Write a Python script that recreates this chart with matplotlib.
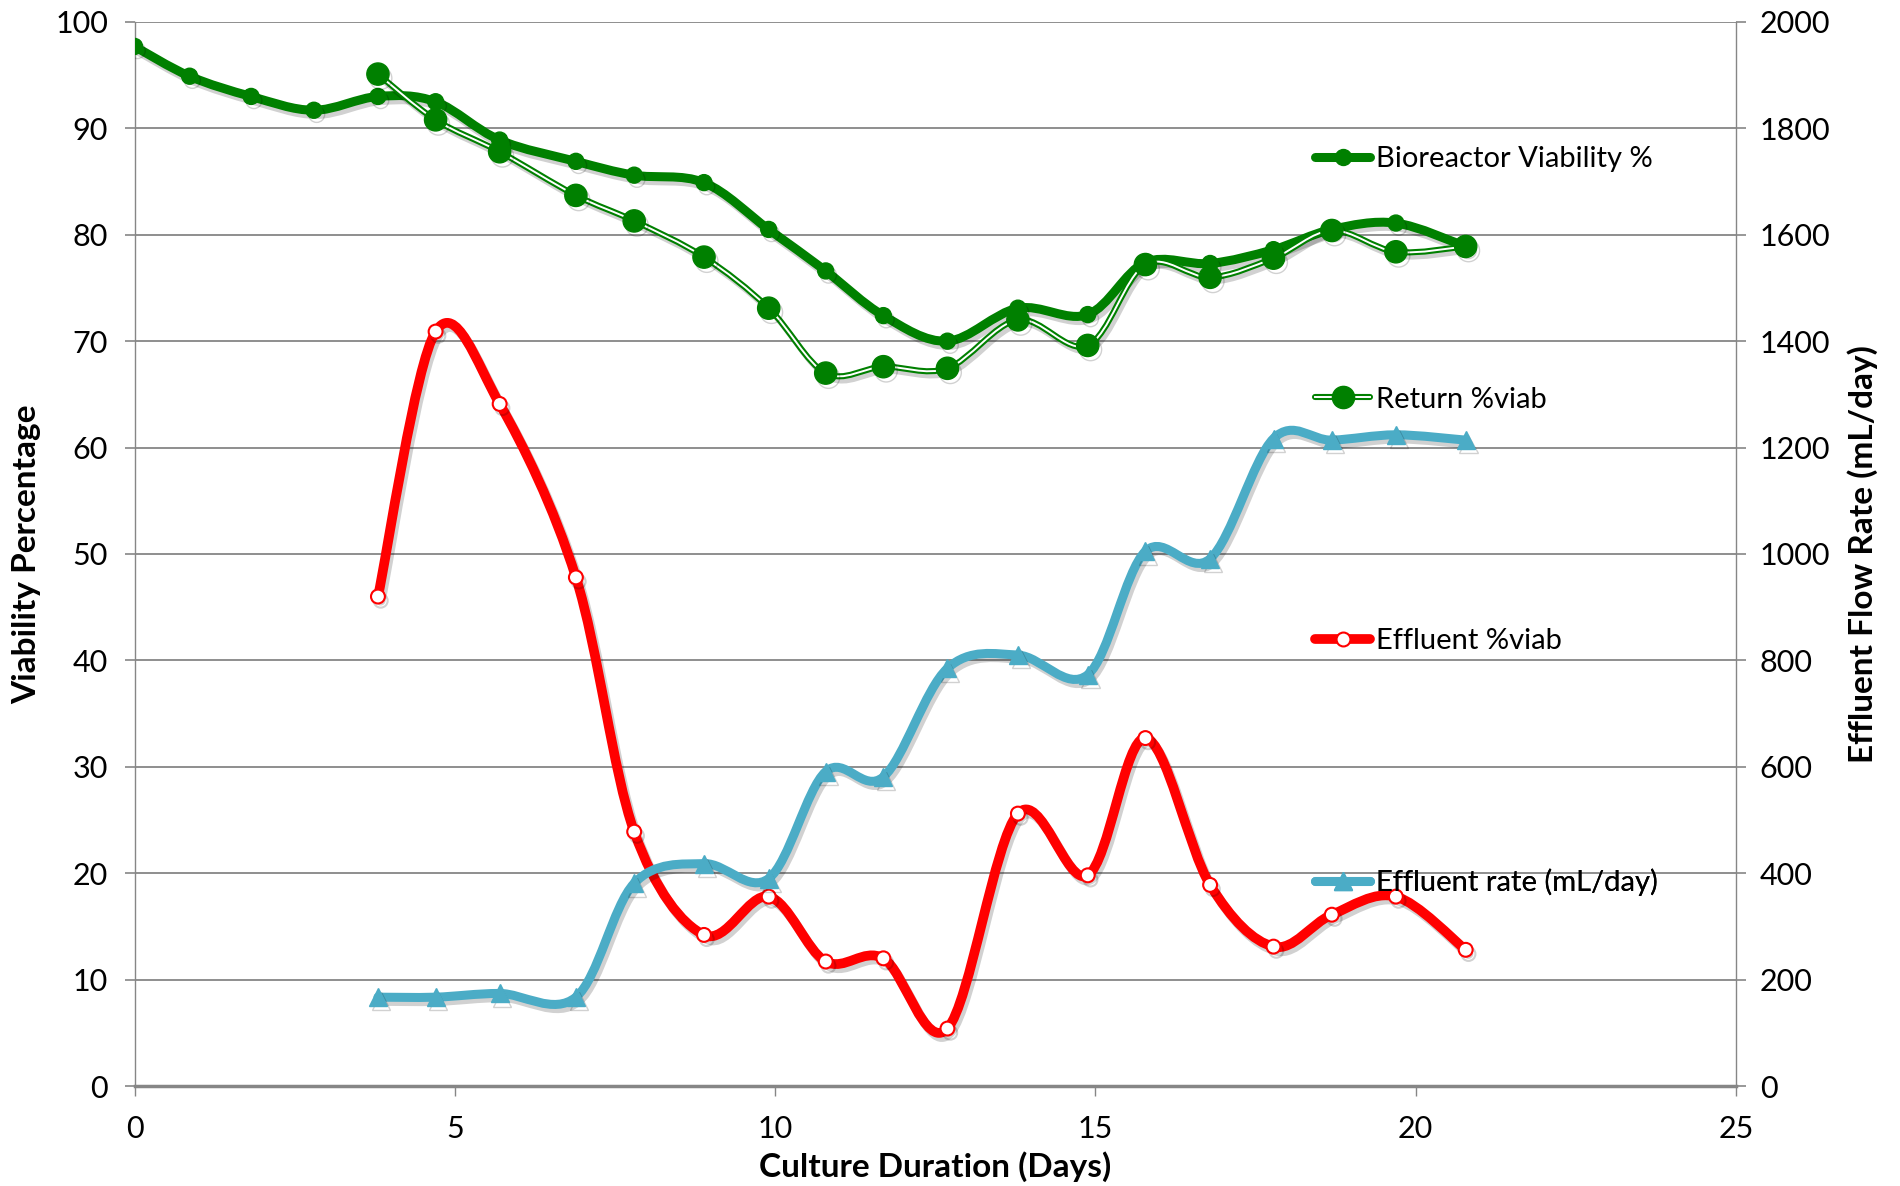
import numpy as np
import matplotlib
matplotlib.use('Agg')
import matplotlib.pyplot as plt
import matplotlib.patheffects as pe
from matplotlib.path import Path
from matplotlib.patches import PathPatch
from matplotlib.lines import Line2D

plt.rcParams['font.family'] = ['Lato', 'DejaVu Sans']

# culture day of each bioreactor sample
days = [0, 0.86, 1.82, 2.80, 3.80, 4.70, 5.70, 6.89, 7.80, 8.89, 9.90,
        10.79, 11.69, 12.69, 13.79, 14.88, 15.78, 16.79, 17.78, 18.69, 19.69, 20.78]
bioreactor_viab = [97.7, 94.9, 93.0, 91.7, 93.0, 92.5, 88.9, 86.9, 85.6, 84.9, 80.5,
                   76.6, 72.4, 70.0, 73.1, 72.5, 77.4, 77.3, 78.6, 80.5, 81.1, 78.9]

# return / effluent sampling starts on day 3.8
sample_days = [3.80, 4.70, 5.70, 6.89, 7.80, 8.89, 9.90, 10.79, 11.69, 12.69,
               13.79, 14.88, 15.78, 16.79, 17.78, 18.69, 19.69, 20.78]
return_viab = [95.1, 90.8, 87.8, 83.7, 81.3, 77.9, 73.1, 67.0, 67.6, 67.45,
               72.0, 69.6, 77.2, 76.0, 77.8, 80.4, 78.4, 78.9]
effluent_viab = [46.0, 70.9, 64.1, 47.8, 23.9, 14.2, 17.8, 11.7, 12.0, 5.4,
                 25.6, 19.8, 32.7, 18.9, 13.1, 16.1, 17.8, 12.8]
effluent_rate = [167, 167, 174, 167, 381, 418, 390, 591, 581, 785,
                 810, 773, 1005, 991, 1217, 1214, 1224, 1214]

GREEN = '#008000'
RED = '#FF0000'
BLUE = '#4BACC6'
GRAY = '#868686'


def smooth_path(xs, ys):
    """Excel-like smoothed line: cubic Bezier segments through the points."""
    pts = np.column_stack([xs, ys]).astype(float)
    n = len(pts)
    verts = [pts[0]]
    codes = [Path.MOVETO]
    for i in range(n - 1):
        p0 = pts[max(i - 1, 0)]
        p1 = pts[i]
        p2 = pts[i + 1]
        p3 = pts[min(i + 2, n - 1)]
        verts += [p1 + (p2 - p0) / 6, p2 - (p3 - p1) / 6, p2]
        codes += [Path.CURVE4] * 3
    return Path(verts, codes)


def shadow():
    return [pe.SimpleLineShadow(offset=(2, -3), shadow_color='black', alpha=0.18), pe.Normal()]


def add_curve(ax, xs, ys, color, lw, zorder, fx=True):
    patch = PathPatch(smooth_path(xs, ys), facecolor='none', edgecolor=color, lw=lw,
                      capstyle='round', joinstyle='round', zorder=zorder)
    if fx:
        patch.set_path_effects(shadow())
    ax.add_patch(patch)


fig = plt.figure(figsize=(19, 11.86), dpi=100)
ax = fig.add_axes([0.0708, 0.0843, 0.8429, 0.8972])
ax2 = ax.twinx()

# bioreactor viability
add_curve(ax, days, bioreactor_viab, GREEN, 6.5, 3)
ax.plot(days, bioreactor_viab, linestyle='none', marker='o', ms=11.5, color=GREEN,
        zorder=4, path_effects=shadow())

# return viability (double line)
add_curve(ax, sample_days, return_viab, GREEN, 4.4, 3)
add_curve(ax, sample_days, return_viab, 'white', 1.4, 3.1, fx=False)
ax.plot(sample_days, return_viab, linestyle='none', marker='o', ms=16, color=GREEN,
        zorder=4, path_effects=shadow())

# effluent viability
add_curve(ax, sample_days, effluent_viab, RED, 7, 5)
ax.plot(sample_days, effluent_viab, linestyle='none', marker='o', ms=10, mfc='white',
        mec=RED, mew=1.5, zorder=6, path_effects=shadow())

# effluent flow rate on the secondary axis
add_curve(ax2, sample_days, effluent_rate, BLUE, 6.5, 3)
ax2.plot(sample_days, effluent_rate, linestyle='none', marker='^', ms=13, color=BLUE,
         zorder=4, path_effects=shadow())

ax.set_xlim(0, 25)
ax.set_ylim(0, 100)
ax2.set_ylim(0, 2000)
ax.set_xticks(range(0, 26, 5))
ax.set_yticks(range(0, 101, 10))
ax2.set_yticks(range(0, 2001, 200))

ax.yaxis.grid(True, color=GRAY, lw=1.3)
ax.set_axisbelow(True)

for a in (ax, ax2):
    a.spines['top'].set_visible(False)
    a.spines['left'].set_color(GRAY)
    a.spines['right'].set_color(GRAY)
    a.spines['left'].set_linewidth(1.0)
    a.spines['right'].set_linewidth(1.0)
    a.spines['bottom'].set_color(GRAY)
    a.spines['bottom'].set_linewidth(2.5)
ax2.spines['bottom'].set_visible(False)
ax2.spines['left'].set_visible(False)
ax.spines['right'].set_visible(False)

ax.tick_params(axis='y', direction='out', length=7, width=1.2, color=GRAY, pad=12, labelsize=22)
ax.tick_params(axis='x', direction='out', length=7, width=1.0, color=GRAY, pad=14, labelsize=22)
ax2.tick_params(axis='y', direction='out', length=7, width=1.2, color=GRAY, pad=10, labelsize=22)

ax.set_xlabel('Culture Duration (Days)', fontsize=24, fontweight='bold', labelpad=6)
ax.set_ylabel('Viability Percentage', fontsize=24, fontweight='bold', labelpad=10)
ax2.set_ylabel('Effluent Flow Rate (mL/day)', fontsize=24, fontweight='bold', labelpad=12)

# legend entries, spread down the right side like the original
bio_h = Line2D([], [], color=GREEN, lw=6.5, marker='o', ms=11.5, solid_capstyle='round')
ret_h = (Line2D([], [], color=GREEN, lw=4.4, solid_capstyle='round'),
         Line2D([], [], color='white', lw=1.4),
         Line2D([], [], linestyle='none', marker='o', ms=16, color=GREEN))
eff_h = Line2D([], [], color=RED, lw=7, marker='o', ms=10, mfc='white', mec=RED,
               mew=1.5, solid_capstyle='round')
rate_h = Line2D([], [], color=BLUE, lw=6.5, marker='^', ms=13, solid_capstyle='round')

entries = [(bio_h, 'Bioreactor Viability %', 0.866),
           (ret_h, 'Return %viab', 0.663),
           (eff_h, 'Effluent %viab', 0.4595),
           (rate_h, 'Effluent rate (mL/day)', 0.2563)]
for handle, label, yfrac in entries:
    leg = ax2.legend([handle], [label], loc='center left', bbox_to_anchor=(0.692, yfrac),
                     bbox_transform=fig.transFigure, frameon=False, fontsize=21,
                     handlelength=1.9, handletextpad=0.2, borderpad=0, borderaxespad=0,
                     numpoints=1)
    ax2.add_artist(leg)

fig.savefig('out.png', dpi=100, facecolor='white')
